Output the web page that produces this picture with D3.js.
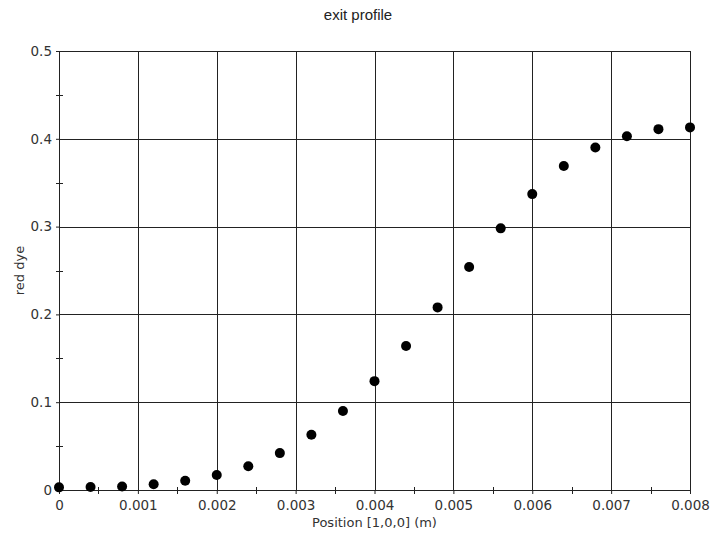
<!DOCTYPE html>
<meta charset="utf-8">
<style>
body { margin: 0; background: #fff; }
.tick text { font: 13.5px "DejaVu Sans", sans-serif; fill: #333; }
.title { font: 15px "Liberation Sans", Arial, sans-serif; fill: #222; }
.label { font: 13px "DejaVu Sans", sans-serif; fill: #333; }
.grid line { stroke: #222; stroke-width: 1; }
.dot { fill: #000; }
</style>
<svg width="712" height="542"></svg>
<script src="https://d3js.org/d3.v7.min.js"></script>
<script>
// exit profile data: position (m) vs red dye
var positions = [0, 0.0004, 0.0008, 0.0012, 0.0016, 0.002, 0.0024, 0.0028, 0.0032, 0.0036,
                 0.004, 0.0044, 0.0048, 0.0052, 0.0056, 0.006, 0.0064, 0.0068, 0.0072, 0.0076, 0.008];
var redDye = [0.003, 0.0035, 0.004, 0.0065, 0.0105, 0.017, 0.027, 0.042, 0.063, 0.090,
              0.124, 0.164, 0.208, 0.254, 0.298, 0.337, 0.369, 0.390, 0.403, 0.411, 0.413];
var xTicks = [0, 0.001, 0.002, 0.003, 0.004, 0.005, 0.006, 0.007, 0.008];
var yTicks = [0, 0.1, 0.2, 0.3, 0.4, 0.5];

var svg = d3.select("svg"),
    margin = {top: 51, right: 22, bottom: 52, left: 59},
    width = +svg.attr("width") - margin.left - margin.right,
    height = +svg.attr("height") - margin.top - margin.bottom,
    g = svg.append("g").attr("transform", "translate(" + margin.left + "," + margin.top + ")");

var x = d3.scaleLinear().domain([0, 0.008]).range([0, width]),
    y = d3.scaleLinear().domain([0, 0.5]).range([height, 0]);

// grid lines
g.append("g")
    .attr("class", "grid")
    .selectAll("line.v")
    .data(xTicks)
  .enter().append("line")
    .attr("x1", function(d) { return Math.round(x(d)) + 0.5; })
    .attr("x2", function(d) { return Math.round(x(d)) + 0.5; })
    .attr("y1", 0)
    .attr("y2", height);

g.append("g")
    .attr("class", "grid")
    .selectAll("line.h")
    .data(yTicks)
  .enter().append("line")
    .attr("y1", function(d) { return Math.round(y(d)) + 0.5; })
    .attr("y2", function(d) { return Math.round(y(d)) + 0.5; })
    .attr("x1", 0)
    .attr("x2", width);

// minor ticks (half steps), crossing the axis
var xMinor = xTicks.slice(1).map(function(d) { return d - 0.0005; }),
    yMinor = yTicks.slice(1).map(function(d) { return d - 0.05; });

g.append("g")
    .attr("class", "grid")
    .selectAll("line")
    .data(xMinor)
  .enter().append("line")
    .attr("x1", function(d) { return Math.round(x(d)) + 0.5; })
    .attr("x2", function(d) { return Math.round(x(d)) + 0.5; })
    .attr("y1", height - 3)
    .attr("y2", height + 4);

g.append("g")
    .attr("class", "grid")
    .selectAll("line")
    .data(yMinor)
  .enter().append("line")
    .attr("y1", function(d) { return Math.round(y(d)) + 0.5; })
    .attr("y2", function(d) { return Math.round(y(d)) + 0.5; })
    .attr("x1", -3)
    .attr("x2", 4);

// axes
var xAxis = g.append("g")
    .attr("transform", "translate(0," + height + ")")
    .call(d3.axisBottom(x).tickValues(xTicks).tickFormat(function(d) { return d === 0 ? "0" : d3.format(".3f")(d); }).tickSize(4).tickPadding(6));
var yAxis = g.append("g")
    .call(d3.axisLeft(y).tickValues(yTicks).tickFormat(function(d) { return d === 0 ? "0" : d3.format(".1f")(d); }).tickSize(3).tickPadding(4));
[xAxis, yAxis].forEach(function(a) {
    a.select(".domain").attr("stroke", "#222");
    a.selectAll(".tick line").attr("stroke", "#222");
});

// points
g.selectAll(".dot")
    .data(positions)
  .enter().append("circle")
    .attr("class", "dot")
    .attr("cx", function(d) { return x(d); })
    .attr("cy", function(d, i) { return y(redDye[i]); })
    .attr("r", 5);

// texts
svg.append("text")
    .attr("class", "title")
    .attr("x", 358)
    .attr("y", 20)
    .attr("text-anchor", "middle")
    .text("exit profile");

svg.append("text")
    .attr("class", "label")
    .attr("x", margin.left + width / 2)
    .attr("y", 527)
    .attr("text-anchor", "middle")
    .text("Position [1,0,0] (m)");

svg.append("text")
    .attr("class", "label")
    .attr("transform", "translate(24," + (margin.top + height / 2) + ") rotate(-90)")
    .attr("text-anchor", "middle")
    .text("red dye");
</script>
